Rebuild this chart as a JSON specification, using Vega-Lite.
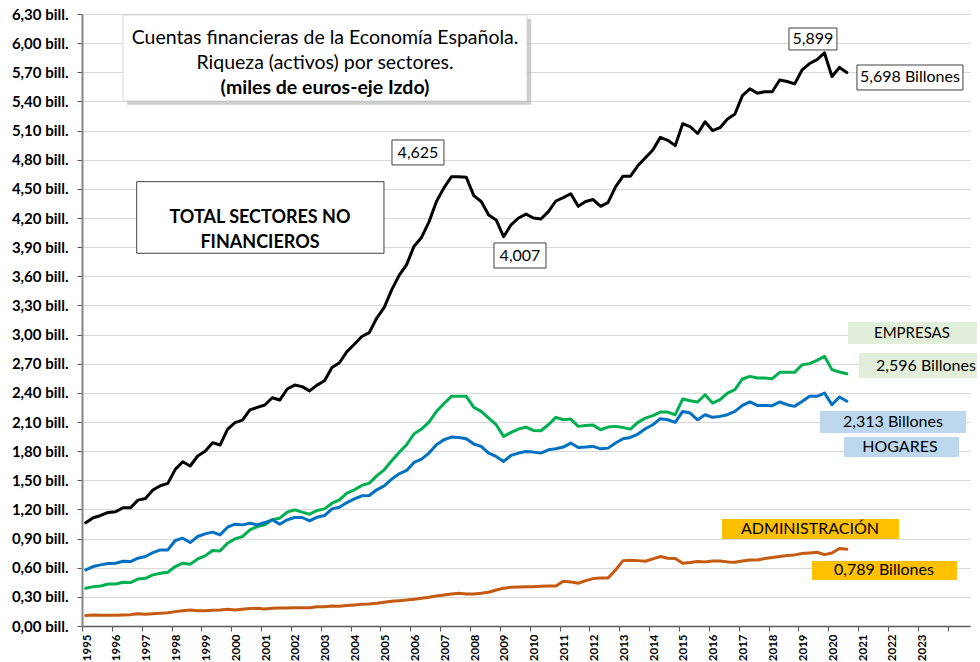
{
  "$schema": "https://vega.github.io/schema/vega-lite/v6.json",
  "width": 888,
  "height": 612,
  "autosize": "none",
  "padding": {"left": 82, "top": 14, "right": 10, "bottom": 36},
  "background": "white",
  "config": {
    "view": {"stroke": null},
    "font": "Lato",
    "axis": {"labelFont": "Lato", "labelFontWeight": "bold", "labelColor": "#000000", "labelOverlap": false, "labelBound": false, "labelFlush": false, "title": null},
    "axisX": {
      "labelAngle": -90, "labelOffset": 5, "labelFontSize": 11.5, "labelPadding": 3, "grid": false,
      "domainColor": "#595959", "domainWidth": 1.3, "tickColor": "#595959", "tickSize": 5,
      "labelOverlap": false
    },
    "axisY": {
      "labelFontSize": 15, "labelPadding": 9, "grid": true, "gridColor": "#d9d9d9", "gridWidth": 1.2,
      "domainColor": "#868686", "domainWidth": 2, "tickColor": "#595959", "tickSize": 5,
      "labelOverlap": false
    }
  },
  "datasets": {
    "serie": [
      {"t": 1995.125, "total": 1.063, "empresas": 0.388, "hogares": 0.577, "admin": 0.107},
      {"t": 1995.375, "total": 1.114, "empresas": 0.405, "hogares": 0.612, "admin": 0.113},
      {"t": 1995.625, "total": 1.138, "empresas": 0.412, "hogares": 0.629, "admin": 0.110},
      {"t": 1995.875, "total": 1.169, "empresas": 0.433, "hogares": 0.643, "admin": 0.110},
      {"t": 1996.125, "total": 1.176, "empresas": 0.433, "hogares": 0.646, "admin": 0.110},
      {"t": 1996.375, "total": 1.217, "empresas": 0.450, "hogares": 0.667, "admin": 0.113},
      {"t": 1996.625, "total": 1.217, "empresas": 0.447, "hogares": 0.663, "admin": 0.117},
      {"t": 1996.875, "total": 1.296, "empresas": 0.484, "hogares": 0.698, "admin": 0.127},
      {"t": 1997.125, "total": 1.313, "empresas": 0.491, "hogares": 0.715, "admin": 0.120},
      {"t": 1997.375, "total": 1.400, "empresas": 0.526, "hogares": 0.756, "admin": 0.127},
      {"t": 1997.625, "total": 1.444, "empresas": 0.543, "hogares": 0.783, "admin": 0.131},
      {"t": 1997.875, "total": 1.468, "empresas": 0.553, "hogares": 0.783, "admin": 0.137},
      {"t": 1998.125, "total": 1.612, "empresas": 0.612, "hogares": 0.880, "admin": 0.148},
      {"t": 1998.375, "total": 1.691, "empresas": 0.646, "hogares": 0.904, "admin": 0.158},
      {"t": 1998.625, "total": 1.647, "empresas": 0.636, "hogares": 0.859, "admin": 0.165},
      {"t": 1998.875, "total": 1.750, "empresas": 0.690, "hogares": 0.921, "admin": 0.158},
      {"t": 1999.125, "total": 1.800, "empresas": 0.722, "hogares": 0.948, "admin": 0.158},
      {"t": 1999.375, "total": 1.887, "empresas": 0.777, "hogares": 0.966, "admin": 0.161},
      {"t": 1999.625, "total": 1.863, "empresas": 0.773, "hogares": 0.938, "admin": 0.165},
      {"t": 1999.875, "total": 2.025, "empresas": 0.852, "hogares": 1.017, "admin": 0.172},
      {"t": 2000.125, "total": 2.093, "empresas": 0.897, "hogares": 1.048, "admin": 0.165},
      {"t": 2000.375, "total": 2.120, "empresas": 0.921, "hogares": 1.041, "admin": 0.172},
      {"t": 2000.625, "total": 2.224, "empresas": 0.990, "hogares": 1.058, "admin": 0.179},
      {"t": 2000.875, "total": 2.250, "empresas": 1.024, "hogares": 1.041, "admin": 0.182},
      {"t": 2001.125, "total": 2.275, "empresas": 1.041, "hogares": 1.065, "admin": 0.175},
      {"t": 2001.375, "total": 2.350, "empresas": 1.093, "hogares": 1.093, "admin": 0.182},
      {"t": 2001.625, "total": 2.326, "empresas": 1.110, "hogares": 1.048, "admin": 0.186},
      {"t": 2001.875, "total": 2.440, "empresas": 1.172, "hogares": 1.093, "admin": 0.186},
      {"t": 2002.125, "total": 2.480, "empresas": 1.196, "hogares": 1.117, "admin": 0.189},
      {"t": 2002.375, "total": 2.464, "empresas": 1.172, "hogares": 1.117, "admin": 0.189},
      {"t": 2002.625, "total": 2.420, "empresas": 1.151, "hogares": 1.082, "admin": 0.189},
      {"t": 2002.875, "total": 2.480, "empresas": 1.189, "hogares": 1.120, "admin": 0.199},
      {"t": 2003.125, "total": 2.525, "empresas": 1.206, "hogares": 1.137, "admin": 0.199},
      {"t": 2003.375, "total": 2.660, "empresas": 1.264, "hogares": 1.206, "admin": 0.206},
      {"t": 2003.625, "total": 2.710, "empresas": 1.299, "hogares": 1.223, "admin": 0.203},
      {"t": 2003.875, "total": 2.825, "empresas": 1.367, "hogares": 1.271, "admin": 0.210},
      {"t": 2004.125, "total": 2.900, "empresas": 1.402, "hogares": 1.309, "admin": 0.216},
      {"t": 2004.375, "total": 2.980, "empresas": 1.447, "hogares": 1.340, "admin": 0.223},
      {"t": 2004.625, "total": 3.020, "empresas": 1.471, "hogares": 1.343, "admin": 0.227},
      {"t": 2004.875, "total": 3.170, "empresas": 1.546, "hogares": 1.402, "admin": 0.234},
      {"t": 2005.125, "total": 3.280, "empresas": 1.608, "hogares": 1.443, "admin": 0.244},
      {"t": 2005.375, "total": 3.460, "empresas": 1.701, "hogares": 1.512, "admin": 0.254},
      {"t": 2005.625, "total": 3.610, "empresas": 1.787, "hogares": 1.567, "admin": 0.261},
      {"t": 2005.875, "total": 3.720, "empresas": 1.866, "hogares": 1.601, "admin": 0.268},
      {"t": 2006.125, "total": 3.910, "empresas": 1.979, "hogares": 1.684, "admin": 0.275},
      {"t": 2006.375, "total": 4.000, "empresas": 2.027, "hogares": 1.718, "admin": 0.285},
      {"t": 2006.625, "total": 4.160, "empresas": 2.099, "hogares": 1.780, "admin": 0.295},
      {"t": 2006.875, "total": 4.370, "empresas": 2.209, "hogares": 1.866, "admin": 0.309},
      {"t": 2007.125, "total": 4.510, "empresas": 2.288, "hogares": 1.917, "admin": 0.320},
      {"t": 2007.375, "total": 4.625, "empresas": 2.364, "hogares": 1.945, "admin": 0.330},
      {"t": 2007.625, "total": 4.625, "empresas": 2.364, "hogares": 1.941, "admin": 0.337},
      {"t": 2007.875, "total": 4.620, "empresas": 2.364, "hogares": 1.928, "admin": 0.330},
      {"t": 2008.125, "total": 4.430, "empresas": 2.250, "hogares": 1.873, "admin": 0.330},
      {"t": 2008.375, "total": 4.370, "empresas": 2.209, "hogares": 1.849, "admin": 0.337},
      {"t": 2008.625, "total": 4.230, "empresas": 2.140, "hogares": 1.780, "admin": 0.347},
      {"t": 2008.875, "total": 4.180, "empresas": 2.072, "hogares": 1.745, "admin": 0.371},
      {"t": 2009.125, "total": 4.007, "empresas": 1.952, "hogares": 1.694, "admin": 0.388},
      {"t": 2009.375, "total": 4.130, "empresas": 1.993, "hogares": 1.756, "admin": 0.399},
      {"t": 2009.625, "total": 4.200, "empresas": 2.027, "hogares": 1.780, "admin": 0.402},
      {"t": 2009.875, "total": 4.240, "empresas": 2.048, "hogares": 1.797, "admin": 0.405},
      {"t": 2010.125, "total": 4.200, "empresas": 2.013, "hogares": 1.790, "admin": 0.405},
      {"t": 2010.375, "total": 4.190, "empresas": 2.010, "hogares": 1.780, "admin": 0.409},
      {"t": 2010.625, "total": 4.265, "empresas": 2.072, "hogares": 1.814, "admin": 0.412},
      {"t": 2010.875, "total": 4.375, "empresas": 2.148, "hogares": 1.824, "admin": 0.412},
      {"t": 2011.125, "total": 4.410, "empresas": 2.123, "hogares": 1.842, "admin": 0.460},
      {"t": 2011.375, "total": 4.450, "empresas": 2.130, "hogares": 1.883, "admin": 0.454},
      {"t": 2011.625, "total": 4.320, "empresas": 2.055, "hogares": 1.838, "admin": 0.440},
      {"t": 2011.875, "total": 4.370, "empresas": 2.065, "hogares": 1.842, "admin": 0.467},
      {"t": 2012.125, "total": 4.390, "empresas": 2.068, "hogares": 1.849, "admin": 0.488},
      {"t": 2012.375, "total": 4.320, "empresas": 2.020, "hogares": 1.824, "admin": 0.495},
      {"t": 2012.625, "total": 4.360, "empresas": 2.048, "hogares": 1.831, "admin": 0.495},
      {"t": 2012.875, "total": 4.520, "empresas": 2.055, "hogares": 1.883, "admin": 0.577},
      {"t": 2013.125, "total": 4.630, "empresas": 2.044, "hogares": 1.928, "admin": 0.673},
      {"t": 2013.375, "total": 4.630, "empresas": 2.027, "hogares": 1.941, "admin": 0.677},
      {"t": 2013.625, "total": 4.740, "empresas": 2.096, "hogares": 1.976, "admin": 0.673},
      {"t": 2013.875, "total": 4.820, "empresas": 2.140, "hogares": 2.031, "admin": 0.667},
      {"t": 2014.125, "total": 4.900, "empresas": 2.165, "hogares": 2.072, "admin": 0.691},
      {"t": 2014.375, "total": 5.030, "empresas": 2.202, "hogares": 2.134, "admin": 0.715},
      {"t": 2014.625, "total": 5.000, "empresas": 2.202, "hogares": 2.123, "admin": 0.698},
      {"t": 2014.875, "total": 4.945, "empresas": 2.175, "hogares": 2.096, "admin": 0.694},
      {"t": 2015.125, "total": 5.170, "empresas": 2.336, "hogares": 2.209, "admin": 0.646},
      {"t": 2015.375, "total": 5.140, "empresas": 2.319, "hogares": 2.192, "admin": 0.653},
      {"t": 2015.625, "total": 5.070, "empresas": 2.306, "hogares": 2.123, "admin": 0.663},
      {"t": 2015.875, "total": 5.190, "empresas": 2.381, "hogares": 2.175, "admin": 0.660},
      {"t": 2016.125, "total": 5.100, "empresas": 2.295, "hogares": 2.148, "admin": 0.670},
      {"t": 2016.375, "total": 5.130, "empresas": 2.330, "hogares": 2.158, "admin": 0.670},
      {"t": 2016.625, "total": 5.220, "empresas": 2.398, "hogares": 2.175, "admin": 0.660},
      {"t": 2016.875, "total": 5.270, "empresas": 2.433, "hogares": 2.209, "admin": 0.656},
      {"t": 2017.125, "total": 5.460, "empresas": 2.543, "hogares": 2.271, "admin": 0.670},
      {"t": 2017.375, "total": 5.530, "empresas": 2.570, "hogares": 2.306, "admin": 0.680},
      {"t": 2017.625, "total": 5.485, "empresas": 2.553, "hogares": 2.271, "admin": 0.680},
      {"t": 2017.875, "total": 5.500, "empresas": 2.553, "hogares": 2.271, "admin": 0.694},
      {"t": 2018.125, "total": 5.500, "empresas": 2.546, "hogares": 2.268, "admin": 0.704},
      {"t": 2018.375, "total": 5.620, "empresas": 2.611, "hogares": 2.306, "admin": 0.715},
      {"t": 2018.625, "total": 5.605, "empresas": 2.611, "hogares": 2.278, "admin": 0.725},
      {"t": 2018.875, "total": 5.580, "empresas": 2.611, "hogares": 2.261, "admin": 0.732},
      {"t": 2019.125, "total": 5.725, "empresas": 2.690, "hogares": 2.312, "admin": 0.746},
      {"t": 2019.375, "total": 5.790, "empresas": 2.700, "hogares": 2.364, "admin": 0.752},
      {"t": 2019.625, "total": 5.830, "empresas": 2.735, "hogares": 2.364, "admin": 0.759},
      {"t": 2019.875, "total": 5.899, "empresas": 2.776, "hogares": 2.398, "admin": 0.735},
      {"t": 2020.125, "total": 5.656, "empresas": 2.639, "hogares": 2.278, "admin": 0.752},
      {"t": 2020.375, "total": 5.750, "empresas": 2.615, "hogares": 2.357, "admin": 0.797},
      {"t": 2020.625, "total": 5.698, "empresas": 2.596, "hogares": 2.313, "admin": 0.789}
    ],
    "one": [{}]
  },
  "encoding": {
    "x": {
      "type": "quantitative",
      "scale": {"domain": [1995, 2024.75], "nice": false, "zero": false},
      "axis": {
        "title": null,
        "values": [1995,1996,1997,1998,1999,2000,2001,2002,2003,2004,2005,2006,2007,2008,2009,2010,2011,2012,2013,2014,2015,2016,2017,2018,2019,2020,2021,2022,2023,2024],
        "labelExpr": "datum.value <= 2023 ? toString(datum.value) : ''",
        "labelOverlap": false
      }
    },
    "y": {
      "type": "quantitative",
      "scale": {"domain": [0, 6.3], "nice": false},
      "axis": {
        "title": null,
        "values": [0,0.3,0.6,0.9,1.2,1.5,1.8,2.1,2.4,2.7,3.0,3.3,3.6,3.9,4.2,4.5,4.8,5.1,5.4,5.7,6.0,6.3],
        "labelExpr": "replace(format(datum.value, '.2f'), '.', ',') + ' bill.'",
        "labelOverlap": false
      }
    }
  },
  "layer": [
    {
      "data": {"name": "serie"},
      "transform": [{"fold": ["admin", "empresas", "hogares", "total"], "as": ["sector", "valor"]}],
      "mark": {"type": "line", "strokeWidth": 3, "strokeJoin": "round", "strokeCap": "round"},
      "encoding": {
        "x": {
          "field": "t", "type": "quantitative",
          "scale": {"domain": [1995, 2024.75], "nice": false, "zero": false},
          "axis": {
            "title": null,
            "values": [1995,1996,1997,1998,1999,2000,2001,2002,2003,2004,2005,2006,2007,2008,2009,2010,2011,2012,2013,2014,2015,2016,2017,2018,2019,2020,2021,2022,2023,2024],
            "labelExpr": "datum.value <= 2023 ? toString(datum.value) : ''",
            "labelOverlap": false
          }
        },
        "y": {
          "field": "valor", "type": "quantitative",
          "scale": {"domain": [0, 6.3], "nice": false},
          "axis": {
            "title": null,
            "values": [0,0.3,0.6,0.9,1.2,1.5,1.8,2.1,2.4,2.7,3.0,3.3,3.6,3.9,4.2,4.5,4.8,5.1,5.4,5.7,6.0,6.3],
            "labelExpr": "replace(format(datum.value, '.2f'), '.', ',') + ' bill.'",
            "labelOverlap": false
          }
        },
        "color": {
          "field": "sector", "type": "nominal", "legend": null,
          "scale": {"domain": ["admin", "empresas", "hogares", "total"], "range": ["#c55a11", "#00b050", "#0070c0", "#000000"]}
        }
      }
    },
    {
      "data": {"name": "one"},
      "mark": {"type": "rect", "fill": "#a6a6a6", "opacity": 0.55},
      "encoding": {"x": {"datum": 1996.51}, "x2": {"datum": 2010.05}, "y": {"datum": 6.25}, "y2": {"datum": 5.365}}
    },
    {
      "data": {"name": "one"},
      "mark": {"type": "rect", "fill": "white", "stroke": "#d0d0d0", "strokeWidth": 0.8},
      "encoding": {"x": {"datum": 1996.374}, "x2": {"datum": 2009.908}, "y": {"datum": 6.29}, "y2": {"datum": 5.405}}
    },
    {
      "data": {"name": "one"},
      "mark": {"type": "text", "text": "Cuentas financieras de la Economía Española.", "fontSize": 19.5, "baseline": "middle", "align": "center", "color": "#000000"},
      "encoding": {"x": {"datum": 2003.141}, "y": {"datum": 6.053}}
    },
    {
      "data": {"name": "one"},
      "mark": {"type": "text", "text": "Riqueza (activos) por sectores.", "fontSize": 19.5, "baseline": "middle", "align": "center", "color": "#000000"},
      "encoding": {"x": {"datum": 2003.141}, "y": {"datum": 5.796}}
    },
    {
      "data": {"name": "one"},
      "mark": {"type": "text", "text": "(miles de euros-eje Izdo)", "fontSize": 19.5, "fontWeight": "bold", "baseline": "middle", "align": "center", "color": "#000000"},
      "encoding": {"x": {"datum": 2003.141}, "y": {"datum": 5.538}}
    },
    {
      "data": {"name": "one"},
      "mark": {"type": "rect", "fill": "white", "stroke": "#404040", "strokeWidth": 1},
      "encoding": {"x": {"datum": 1996.833}, "x2": {"datum": 2005.117}, "y": {"datum": 4.574}, "y2": {"datum": 3.837}}
    },
    {
      "data": {"name": "one"},
      "mark": {"type": "text", "text": ["TOTAL SECTORES NO", "FINANCIEROS"], "lineHeight": 25, "fontSize": 18, "fontWeight": "bold", "baseline": "middle", "align": "center", "color": "#000000"},
      "encoding": {"x": {"datum": 2000.963}, "y": {"datum": 4.205}}
    },
    {
      "data": {"name": "one"},
      "mark": {"type": "rect", "fill": "white", "stroke": "#404040", "strokeWidth": 1},
      "encoding": {"x": {"datum": 2005.385}, "x2": {"datum": 2007.127}, "y": {"datum": 5.003}, "y2": {"datum": 4.746}}
    },
    {
      "data": {"name": "one"},
      "mark": {"type": "text", "text": "4,625", "fontSize": 16, "baseline": "middle", "align": "center", "color": "#000000"},
      "encoding": {"x": {"datum": 2006.256}, "y": {"datum": 4.869}}
    },
    {
      "data": {"name": "one"},
      "mark": {"type": "rect", "fill": "white", "stroke": "#404040", "strokeWidth": 1},
      "encoding": {"x": {"datum": 2008.802}, "x2": {"datum": 2010.544}, "y": {"datum": 3.943}, "y2": {"datum": 3.685}}
    },
    {
      "data": {"name": "one"},
      "mark": {"type": "text", "text": "4,007", "fontSize": 16, "baseline": "middle", "align": "center", "color": "#000000"},
      "encoding": {"x": {"datum": 2009.673}, "y": {"datum": 3.809}}
    },
    {
      "data": {"name": "one"},
      "mark": {"type": "rect", "fill": "white", "stroke": "#404040", "strokeWidth": 1},
      "encoding": {"x": {"datum": 2018.685}, "x2": {"datum": 2020.293}, "y": {"datum": 6.156}, "y2": {"datum": 5.93}}
    },
    {
      "data": {"name": "one"},
      "mark": {"type": "text", "text": "5,899", "fontSize": 16, "baseline": "middle", "align": "center", "color": "#000000"},
      "encoding": {"x": {"datum": 2019.489}, "y": {"datum": 6.043}}
    },
    {
      "data": {"name": "one"},
      "mark": {"type": "rect", "fill": "white", "stroke": "#404040", "strokeWidth": 1},
      "encoding": {"x": {"datum": 2020.963}, "x2": {"datum": 2024.514}, "y": {"datum": 5.775}, "y2": {"datum": 5.518}}
    },
    {
      "data": {"name": "one"},
      "mark": {"type": "text", "text": "5,698 Billones", "fontSize": 16, "baseline": "middle", "align": "center", "color": "#000000"},
      "encoding": {"x": {"datum": 2022.739}, "y": {"datum": 5.647}}
    },
    {
      "data": {"name": "one"},
      "mark": {"type": "rect", "fill": "#e2efda"},
      "encoding": {"x": {"datum": 2020.662}, "x2": {"datum": 2024.983}, "y": {"datum": 3.13}, "y2": {"datum": 2.903}}
    },
    {
      "data": {"name": "one"},
      "mark": {"type": "text", "text": "EMPRESAS", "fontSize": 15, "baseline": "middle", "align": "center", "color": "#000000"},
      "encoding": {"x": {"datum": 2022.805}, "y": {"datum": 3.016}}
    },
    {
      "data": {"name": "one"},
      "mark": {"type": "rect", "fill": "#e2efda"},
      "encoding": {"x": {"datum": 2021.03}, "x2": {"datum": 2024.983}, "y": {"datum": 2.81}, "y2": {"datum": 2.553}}
    },
    {
      "data": {"name": "one"},
      "mark": {"type": "text", "text": "2,596 Billones", "fontSize": 16, "baseline": "middle", "align": "center", "color": "#000000"},
      "encoding": {"x": {"datum": 2023.275}, "y": {"datum": 2.68}}
    },
    {
      "data": {"name": "one"},
      "mark": {"type": "rect", "fill": "#bdd7ee"},
      "encoding": {"x": {"datum": 2019.724}, "x2": {"datum": 2024.615}, "y": {"datum": 2.213}, "y2": {"datum": 1.987}}
    },
    {
      "data": {"name": "one"},
      "mark": {"type": "text", "text": "2,313 Billones", "fontSize": 16, "baseline": "middle", "align": "center", "color": "#000000"},
      "encoding": {"x": {"datum": 2022.169}, "y": {"datum": 2.1}}
    },
    {
      "data": {"name": "one"},
      "mark": {"type": "rect", "fill": "#bdd7ee"},
      "encoding": {"x": {"datum": 2020.528}, "x2": {"datum": 2024.38}, "y": {"datum": 1.946}, "y2": {"datum": 1.74}}
    },
    {
      "data": {"name": "one"},
      "mark": {"type": "text", "text": "HOGARES", "fontSize": 16, "baseline": "middle", "align": "center", "color": "#000000"},
      "encoding": {"x": {"datum": 2022.403}, "y": {"datum": 1.843}}
    },
    {
      "data": {"name": "one"},
      "mark": {"type": "rect", "fill": "#ffc000"},
      "encoding": {"x": {"datum": 2016.44}, "x2": {"datum": 2022.37}, "y": {"datum": 1.101}, "y2": {"datum": 0.896}}
    },
    {
      "data": {"name": "one"},
      "mark": {"type": "text", "text": "ADMINISTRACIÓN", "fontSize": 16, "baseline": "middle", "align": "center", "color": "#000000"},
      "encoding": {"x": {"datum": 2019.389}, "y": {"datum": 0.999}}
    },
    {
      "data": {"name": "one"},
      "mark": {"type": "rect", "fill": "#ffc000"},
      "encoding": {"x": {"datum": 2019.456}, "x2": {"datum": 2024.313}, "y": {"datum": 0.669}, "y2": {"datum": 0.474}}
    },
    {
      "data": {"name": "one"},
      "mark": {"type": "text", "text": "0,789 Billones", "fontSize": 16, "baseline": "middle", "align": "center", "color": "#000000"},
      "encoding": {"x": {"datum": 2021.868}, "y": {"datum": 0.576}}
    }
  ]
}
